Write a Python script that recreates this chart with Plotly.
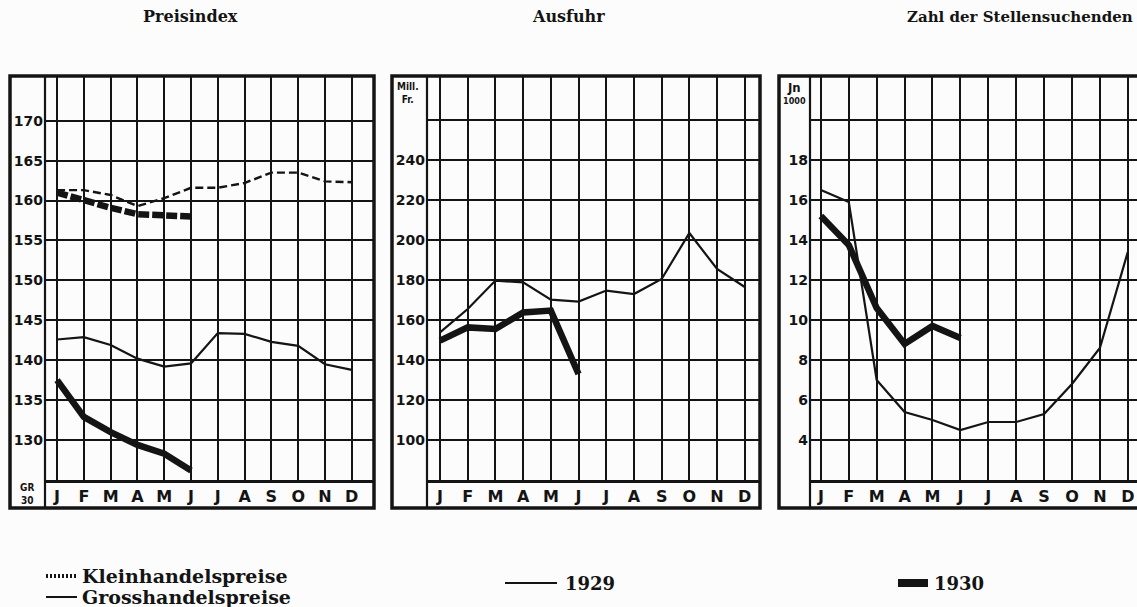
import plotly.graph_objects as go

W, H = 1137, 607

months = ["J", "F", "M", "A", "M", "J", "J", "A", "S", "O", "N", "D"]
m_idx = list(range(12))

# Preisindex
klein_1929 = [161.3, 161.3, 160.7, 159.3, 160.3, 161.6, 161.6, 162.2, 163.5, 163.5, 162.4, 162.3]
klein_1930 = [161.0, 160.0, 159.1, 158.3, 158.1, 158.0]
gross_1929 = [142.6, 142.9, 141.9, 140.2, 139.2, 139.6, 143.4, 143.3, 142.3, 141.8, 139.5, 138.8]
gross_1930 = [137.5, 132.9, 131.0, 129.4, 128.3, 126.2]
preis_ticks = [130, 135, 140, 145, 150, 155, 160, 165, 170]

# Ausfuhr (Mill. Fr.)
ausfuhr_1929 = [153.8, 165.5, 179.7, 178.8, 170.2, 169.2, 174.7, 173.0, 180.5, 203.5, 185.5, 176.5]
ausfuhr_1930 = [149.7, 156.3, 155.5, 163.8, 164.7, 133.0]
ausfuhr_ticks = [100, 120, 140, 160, 180, 200, 220, 240, 260]
ausfuhr_labels = ["100", "120", "140", "160", "180", "200", "220", "240", ""]

# Zahl der Stellensuchenden (in 1000)
stellen_1929 = [16.5, 15.9, 7.0, 5.4, 5.0, 4.5, 4.9, 4.9, 5.3, 6.8, 8.6, 13.4]
stellen_1930 = [15.2, 13.75, 10.6, 8.8, 9.7, 9.1]
stellen_ticks = [4, 6, 8, 10, 12, 14, 16, 18, 20]
stellen_labels = ["4", "6", "8", "10", "12", "14", "16", "18", ""]

INK = "#141414"


def px(x):
    return x / W


def py(y):
    return 1 - y / H


panels = [
    dict(fl=10, il=45, r=374, xr=[-0.45, 11.83], yr=[125, 175.6],
         tv=preis_ticks, tt=[str(v) for v in preis_ticks]),
    dict(fl=392, il=427, r=760, xr=[-0.47, 11.55], yr=[80, 282],
         tv=ausfuhr_ticks, tt=ausfuhr_labels),
    dict(fl=779, il=810, r=1137, xr=[-0.39, 11.33], yr=[2, 22.2],
         tv=stellen_ticks, tt=stellen_labels),
]
TOP, MROW, BOT = 76, 480, 508

fig = go.Figure()

thin = dict(color=INK, width=2.2)
thick = dict(color=INK, width=6.5)

# Panel 1
fig.add_trace(go.Scatter(x=m_idx, y=klein_1929, mode="lines",
                         line=dict(color=INK, width=2.4, dash="8px,4px"),
                         xaxis="x", yaxis="y"))
fig.add_trace(go.Scatter(x=m_idx[:len(klein_1930)], y=klein_1930, mode="lines",
                         line=dict(color=INK, width=6.5, dash="11px,3px"),
                         xaxis="x", yaxis="y"))
fig.add_trace(go.Scatter(x=m_idx, y=gross_1929, mode="lines", line=thin,
                         xaxis="x", yaxis="y"))
fig.add_trace(go.Scatter(x=m_idx[:len(gross_1930)], y=gross_1930, mode="lines",
                         line=thick, xaxis="x", yaxis="y"))
# Panel 2
fig.add_trace(go.Scatter(x=m_idx, y=ausfuhr_1929, mode="lines", line=thin,
                         xaxis="x2", yaxis="y2"))
fig.add_trace(go.Scatter(x=m_idx[:len(ausfuhr_1930)], y=ausfuhr_1930, mode="lines",
                         line=thick, xaxis="x2", yaxis="y2"))
# Panel 3
fig.add_trace(go.Scatter(x=m_idx, y=stellen_1929, mode="lines", line=thin,
                         xaxis="x3", yaxis="y3"))
fig.add_trace(go.Scatter(x=m_idx[:len(stellen_1930)], y=stellen_1930, mode="lines",
                         line=thick, xaxis="x3", yaxis="y3"))

layout = dict(
    width=W, height=H,
    margin=dict(l=0, r=0, t=0, b=0),
    paper_bgcolor="#fcfcfc", plot_bgcolor="#fcfcfc",
    showlegend=False,
)

shapes = []
for i, p in enumerate(panels, start=1):
    sfx = "" if i == 1 else str(i)
    layout["xaxis" + sfx] = dict(
        domain=[px(p["il"]), px(p["r"])], range=p["xr"],
        anchor="y" + sfx, tickmode="array", tickvals=m_idx, ticktext=months,
        showgrid=True, gridcolor=INK, gridwidth=2, zeroline=False,
        showline=True, linecolor=INK, linewidth=2.5, ticks="",
        tickfont=dict(family="DejaVu Sans", size=16, color=INK, weight="bold"),
        fixedrange=True,
    )
    layout["yaxis" + sfx] = dict(
        domain=[py(MROW), py(TOP)], range=p["yr"],
        anchor="x" + sfx, tickmode="array", tickvals=p["tv"], ticktext=p["tt"],
        showgrid=True, gridcolor=INK, gridwidth=2, zeroline=False,
        showline=False, ticks="", ticklabelstandoff=1,
        tickfont=dict(family="DejaVu Sans", size=14, color=INK, weight="bold"),
        fixedrange=True,
    )
    shapes.append(dict(type="rect", xref="paper", yref="paper",
                       x0=px(p["fl"]), x1=px(p["r"] if i < 3 else W + 5),
                       y0=py(BOT), y1=py(TOP),
                       line=dict(color=INK, width=3.5), layer="above"))
    shapes.append(dict(type="line", xref="paper", yref="paper",
                       x0=px(p["il"]), x1=px(p["il"]), y0=py(BOT), y1=py(TOP),
                       line=dict(color=INK, width=2.2), layer="above"))

# Legend symbols
shapes.append(dict(type="line", xref="paper", yref="paper",
                   x0=px(46), x1=px(76), y0=py(576), y1=py(576),
                   line=dict(color=INK, width=4, dash="2px,2px")))
shapes.append(dict(type="line", xref="paper", yref="paper",
                   x0=px(46), x1=px(77), y0=py(597), y1=py(597),
                   line=dict(color=INK, width=2)))
shapes.append(dict(type="line", xref="paper", yref="paper",
                   x0=px(505), x1=px(557), y0=py(583), y1=py(583),
                   line=dict(color=INK, width=2.2)))
shapes.append(dict(type="line", xref="paper", yref="paper",
                   x0=px(898), x1=px(928), y0=py(583), y1=py(583),
                   line=dict(color=INK, width=8)))
layout["shapes"] = shapes

serif = "DejaVu Serif"
ann = []


def text(x, y, s, size, family=serif, xanchor="center", bold=True):
    ann.append(dict(x=px(x), y=py(y), xref="paper", yref="paper", text=s,
                    showarrow=False, xanchor=xanchor, yanchor="middle",
                    font=dict(family=family, size=size, color=INK,
                              weight="bold" if bold else "normal")))


text(190, 17, "Preisindex", 16)
text(568, 17, "Ausfuhr", 16)
text(1020, 17, "Zahl der Stellensuchenden", 15)

text(80, 576, "Kleinhandelspreise", 19, xanchor="left")
text(80, 597, "Grosshandelspreise", 19, xanchor="left")
text(563, 583, "1929", 18, xanchor="left")
text(932, 583, "1930", 18, xanchor="left")

ann.append(dict(x=px(27), y=py(494), xref="paper", yref="paper",
                text="GR<br>30", showarrow=False, xanchor="center", yanchor="middle",
                font=dict(family="DejaVu Sans Condensed", size=10, color=INK, weight="bold")))
ann.append(dict(x=px(408), y=py(93), xref="paper", yref="paper",
                text="Mill.<br>Fr.", showarrow=False, xanchor="center", yanchor="middle",
                font=dict(family="DejaVu Sans Condensed", size=10, color=INK, weight="bold")))
ann.append(dict(x=px(794), y=py(93), xref="paper", yref="paper",
                text="<span style='font-size:13px'>Jn</span><br>1000", showarrow=False,
                xanchor="center", yanchor="middle",
                font=dict(family="DejaVu Sans Condensed", size=9, color=INK, weight="bold")))
layout["annotations"] = ann

fig.update_layout(**layout)
fig.write_html("out.html", config={"displayModeBar": False},
               post_script="document.body.style.margin='0';document.body.style.padding='0';")
